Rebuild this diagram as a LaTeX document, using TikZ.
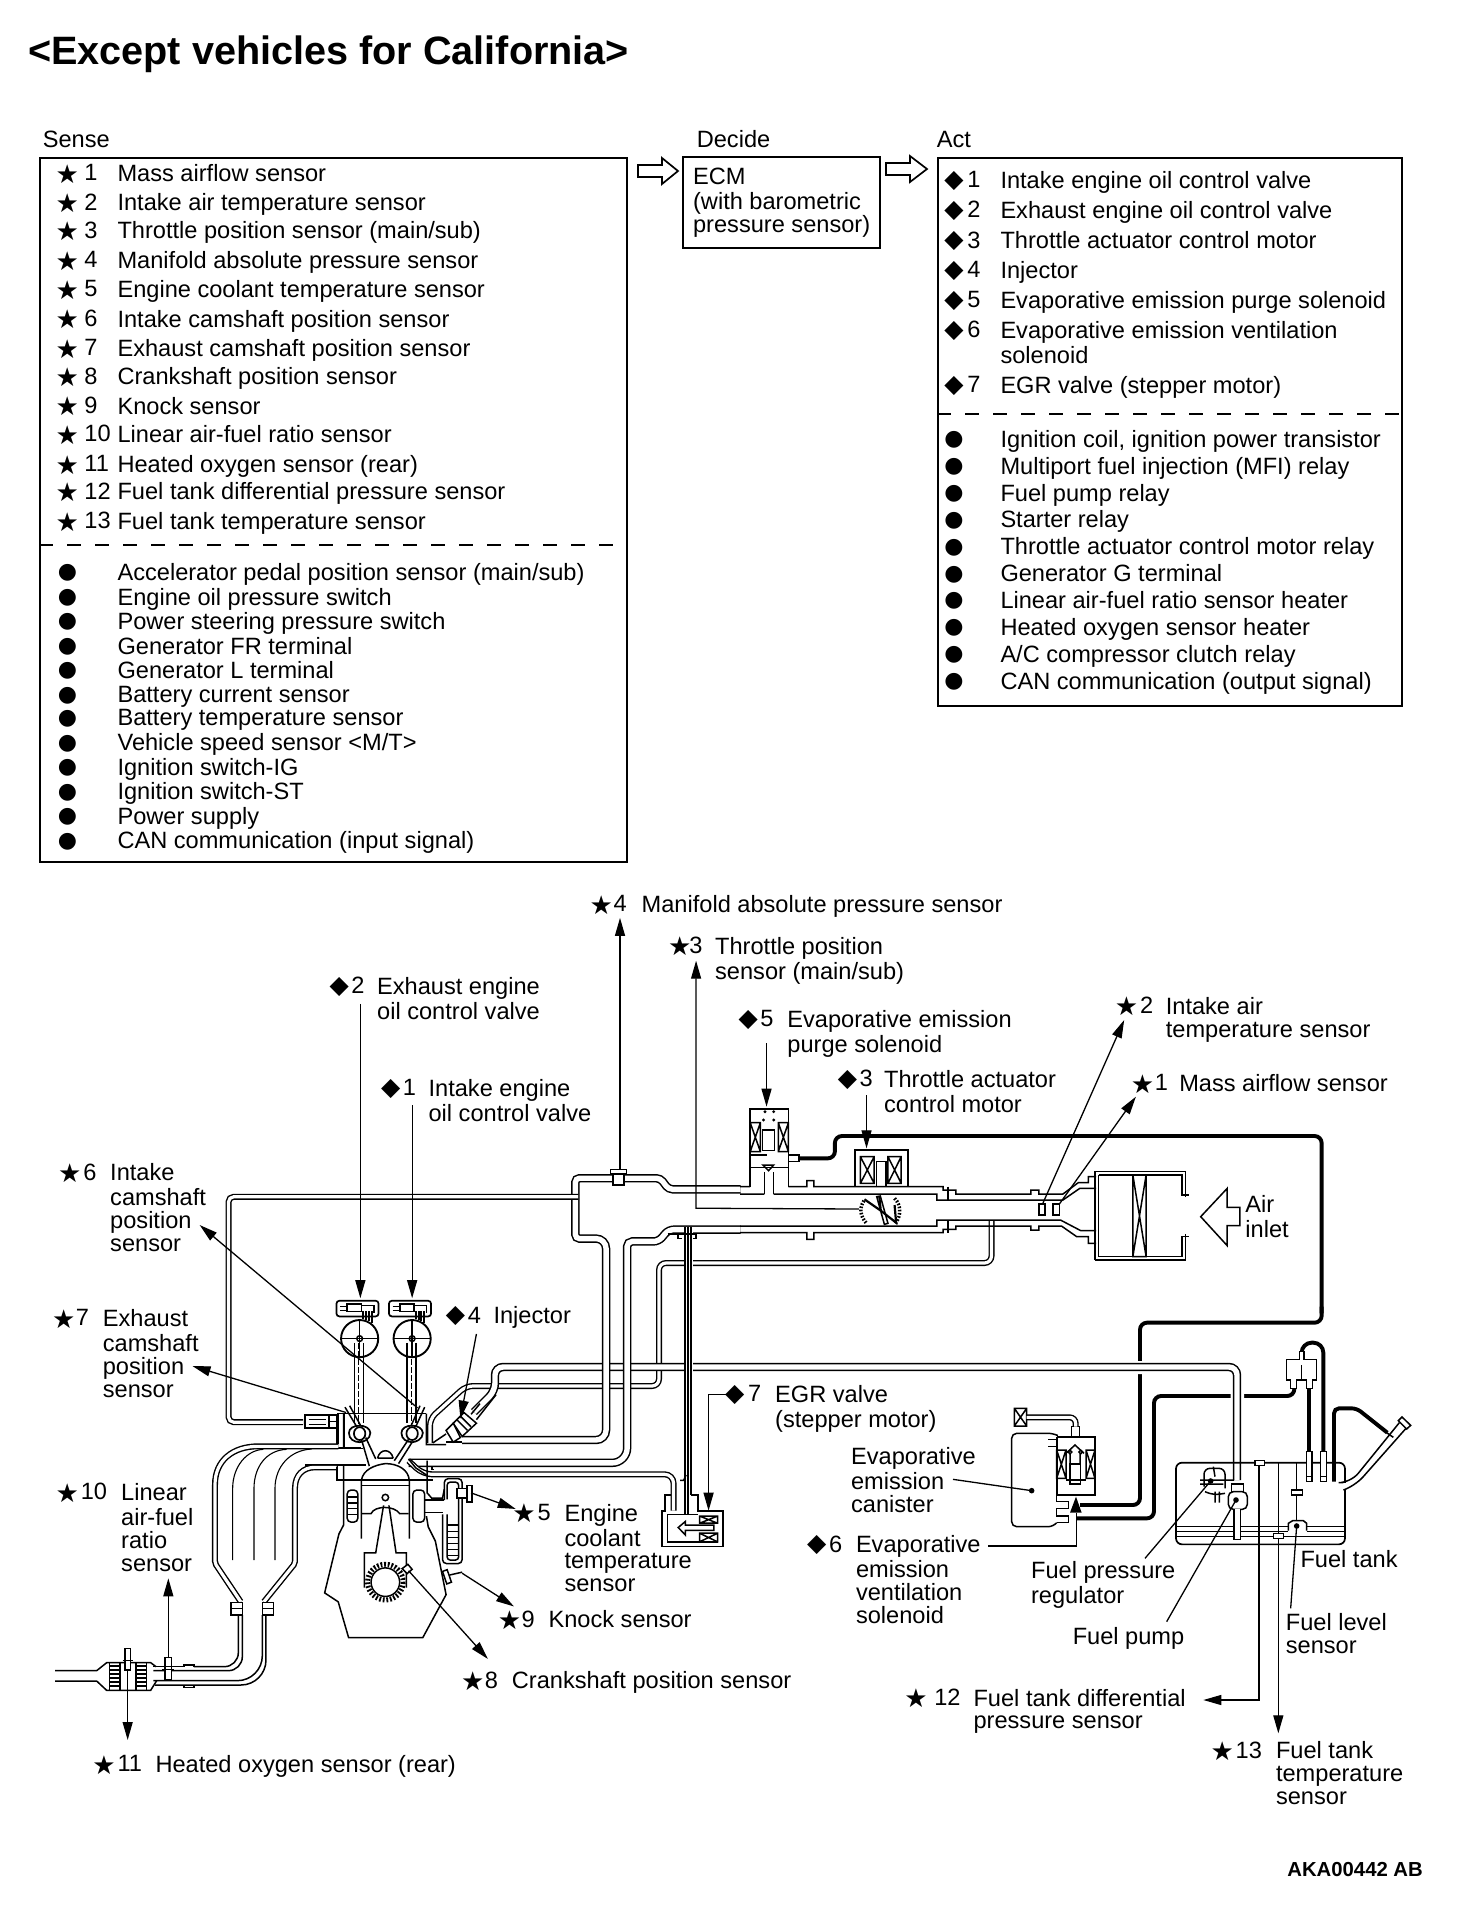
\documentclass[tikz,border=0pt]{standalone}
\usepackage{fontspec}
\setmainfont{Liberation Sans}
\newfontfamily\symf{DejaVu Sans}
\usetikzlibrary{arrows.meta}
\tikzset{
 z1/.style={shift={(180,1100)},x=.35714pt,y=-.35714pt},
 z2/.style={shift={(540,1080)},x=.5102pt,y=-.33333pt},
 z3/.style={shift={(960,1300)},x=.33333pt,y=-.33333pt},
 z4/.style={shift={(30,1400)},x=.33333pt,y=-.33333pt},
 lbl/.style={anchor=north west,inner sep=0pt,outer sep=0pt,align=left,font=\fontsize{23.6}{22.9}\selectfont},
 sy/.style={anchor=center,inner sep=0pt,outer sep=0pt},
 boxl/.style={draw,line width=1.9pt},
 ln/.style={line width=1.5pt},
 lnf/.style={line width=1.1pt},
 pipeA/.style={draw,line width=1.5pt,double,double distance=5.4pt,rounded corners=5pt},
 pipeB/.style={draw,line width=1.4pt,double,double distance=3.2pt,rounded corners=7pt},
 thickp/.style={line width=3.9pt,rounded corners=7pt,line cap=butt},
 lead/.style={line width=1.3pt,-{Triangle[length=18pt,width=10pt]}},
 plainlead/.style={line width=1.3pt},
 dashsep/.style={line width=1.1pt,dash pattern=on 14pt off 14pt},
 hollow/.style={draw,line width=1.7pt,fill=white}
}
\newcommand\lb[4]{\node[lbl] (#1) at ({#2*1.2246},{#3*1.2246-9.6}) {\strut #4};}
\newcommand\stsym{\symf\fontsize{26}{26}\selectfont ★}
\newcommand\disym{\symf\fontsize{25}{25}\selectfont ◆}
\newcommand\busym{\symf\fontsize{22}{22}\selectfont ●}
\newcommand\lbs[8]{\node[sy] (#1-s) at ({#3*1.2246},{#6*1.2246}) {#2};\lb{#1-n}{#4}{#6}{#7}\lb{#1}{#5}{#6}{#8}}
\newcommand\sr[3]{\lbs{s#1}{\stsym}{55}{69}{96}{#2}{#1}{#3}}
\newcommand\ar[3]{\lbs{a#1}{\disym}{779}{790}{817}{#2}{#1}{#3}}
\newcommand\bs[3]{\node[sy] (bs#1-s) at ({55*1.2246},{#2*1.2246}) {\busym};\lb{bs#1}{96}{#2}{#3}}
\newcommand\ba[3]{\node[sy] (ba#1-s) at ({779*1.2246},{#2*1.2246}) {\busym};\lb{ba#1}{817}{#2}{#3}}
\begin{document}
\begin{tikzpicture}[x=1pt,y=-1pt]
\useasboundingbox (0,0) rectangle (1472,1920);
\fill[white] (0,0) rectangle (1472,1920);
% title and headers
\node[anchor=base west,inner sep=0pt,font=\bfseries\fontsize{39.6}{40}\selectfont] (title) at (28,64) {<Except vehicles for California>};
\lb{hsense}{35}{115}{Sense}
\lb{hdecide}{569}{114}{Decide}
\lb{hact}{765}{115}{Act}
% boxes
\node[boxl,minimum width=587pt,minimum height=704pt,anchor=north west,inner sep=0pt] (sensebox) at (39,157) {};
\node[boxl,minimum width=197pt,minimum height=91pt,anchor=north west,inner sep=0pt] (ecmbox) at (682,156) {};
\node[boxl,minimum width=464pt,minimum height=548pt,anchor=north west,inner sep=0pt] (actbox) at (937,157) {};
\draw[dashsep] (sensebox.west |- 0,545) -- (sensebox.east |- 0,545);
\draw[dashsep] (actbox.west |- 0,414) -- (actbox.east |- 0,414);
\lb{ecmt}{566}{145}{ECM\\(with barometric\\pressure sensor)}
\draw[hollow] (638,165)--(662,165)--(662,158)--(678,171)--(662,184)--(662,177)--(638,177)--cycle;
\draw[hollow] (886,163)--(910,163)--(910,156)--(927,169)--(910,182)--(910,175)--(886,175)--cycle;
% sense
\sr{1}{142}{Mass airflow sensor}
\sr{2}{166}{Intake air temperature sensor}
\sr{3}{189}{Throttle position sensor (main/sub)}
\sr{4}{213}{Manifold absolute pressure sensor}
\sr{5}{237}{Engine coolant temperature sensor}
\sr{6}{261}{Intake camshaft position sensor}
\sr{7}{285}{Exhaust camshaft position sensor}
\sr{8}{308}{Crankshaft position sensor}
\sr{9}{332}{Knock sensor}
\sr{10}{355}{Linear air-fuel ratio sensor}
\sr{11}{380}{Heated oxygen sensor (rear)}
\sr{12}{402}{Fuel tank differential pressure sensor}
\sr{13}{426}{Fuel tank temperature sensor}
\bs{1}{468}{Accelerator pedal position sensor (main/sub)}
\bs{2}{488}{Engine oil pressure switch}
\bs{3}{508}{Power steering pressure switch}
\bs{4}{528}{Generator FR terminal}
\bs{5}{548}{Generator L terminal}
\bs{6}{568}{Battery current sensor}
\bs{7}{587}{Battery temperature sensor}
\bs{8}{607}{Vehicle speed sensor <M/T>}
\bs{9}{627}{Ignition switch-IG}
\bs{10}{647}{Ignition switch-ST}
\bs{11}{667}{Power supply}
\bs{12}{687}{CAN communication (input signal)}
% act
\ar{1}{148}{Intake engine oil control valve}
\ar{2}{172}{Exhaust engine oil control valve}
\ar{3}{197}{Throttle actuator control motor}
\ar{4}{221}{Injector}
\ar{5}{246}{Evaporative emission purge solenoid}
\ar{6}{270}{Evaporative emission ventilation\\solenoid}
\ar{7}{315}{EGR valve (stepper motor)}
\ba{1}{359}{Ignition coil, ignition power transistor}
\ba{2}{381}{Multiport fuel injection (MFI) relay}
\ba{3}{403}{Fuel pump relay}
\ba{4}{425}{Starter relay}
\ba{5}{447}{Throttle actuator control motor relay}
\ba{6}{469}{Generator G terminal}
\ba{7}{491}{Linear air-fuel ratio sensor heater}
\ba{8}{513}{Heated oxygen sensor heater}
\ba{9}{535}{A/C compressor clutch relay}
\ba{10}{557}{CAN communication (output signal)}
% diagram labels
\lbs{l4}{\stsym}{491}{501}{524}{739}{4}{Manifold absolute pressure sensor}
\lbs{l3}{\stsym}{555}{563}{584}{773}{3}{Throttle position\\sensor (main/sub)}
\lbs{ld2}{\disym}{277}{287}{308}{806}{2}{Exhaust engine\\oil control valve}
\lbs{ld5}{\disym}{611}{621}{643}{833}{5}{Evaporative emission\\purge solenoid}
\lbs{l2}{\stsym}{920}{931}{952}{822}{2}{Intake air\\temperature sensor}
\lbs{ld3}{\disym}{692}{702}{722}{882}{3}{Throttle actuator\\control motor}
\lbs{l1}{\stsym}{933}{943}{963}{885}{1}{Mass airflow sensor}
\lbs{ld1}{\disym}{319}{329}{350}{889}{1}{Intake engine\\oil control valve}
\lbs{l6}{\stsym}{57}{68}{90}{958}{6}{Intake\\camshaft\\position\\sensor}
\lbs{l7}{\stsym}{52}{62}{84}{1077}{7}{Exhaust\\camshaft\\position\\sensor}
\lbs{ld4}{\disym}{372}{382}{403}{1075}{4}{Injector}
\lbs{ld7}{\disym}{600}{611}{633}{1139}{7}{EGR valve\\(stepper motor)}
\lb{lcan}{695}{1190}{Evaporative\\emission\\canister}
\lbs{l5}{\stsym}{428}{439}{461}{1236}{5}{Engine\\coolant\\temperature\\sensor}
\lbs{l10}{\stsym}{55}{66}{99}{1219}{10}{Linear\\air-fuel\\ratio\\sensor}
\lbs{ld6}{\disym}{667}{677}{699}{1262}{6}{Evaporative\\emission\\ventilation\\solenoid}
\lb{lfpr}{842}{1283}{Fuel pressure\\regulator}
\lb{lfp}{876}{1337}{Fuel pump}
\lb{lft}{1062}{1274}{Fuel tank}
\lb{lfl}{1050}{1325}{Fuel level\\sensor}
\lbs{l9}{\stsym}{416}{426}{448}{1323}{9}{Knock sensor}
\lbs{l8}{\stsym}{386}{396}{418}{1373}{8}{Crankshaft position sensor}
\lbs{l12}{\stsym}{748}{763}{795}{1387}{12}{Fuel tank differential\\pressure sensor}
\lbs{l13}{\stsym}{998}{1009}{1042}{1430}{13}{Fuel tank\\temperature\\sensor}
\lbs{l11}{\stsym}{85}{96}{127}{1441}{11}{Heated oxygen sensor (rear)}
\lb{lair}{1017}{984}{Air\\inlet}
\node[anchor=base east,inner sep=0pt,font=\bfseries\fontsize{20.3}{21}\selectfont] (code) at (1423,1876) {AKA00442 AB};

% === thick vapor lines
\begin{scope}[z2]
\draw[thickp] (508,235)--(578,235)--(578,168)--(1532,168)--(1532,700);
\end{scope}
\begin{scope}[z3]
\draw[thickp] (1085,20)--(1085,68)--(540,68)--(540,615)--(360,615);
\draw[thickp] (350,655)--(582,655)--(582,288)--(1003,288)--(1003,262);
\draw[line width=3.9pt] (1048,265)--(1048,455);
\draw[thickp,rounded corners=10pt] (1025,155)--(1025,128)--(1090,128)--(1090,455);
\draw[thickp,rounded corners=5pt] (1122,545)--(1122,325)--(1190,325)--(1282,398);
\fill[white] (530,183) rectangle (550,222) (812,278) rectangle (852,298);
\end{scope}
% === pipe with injector rail (thin double), passes under the fuel line
\draw[pipeB] (991.5,1220)--(991.5,1263)--(659,1263)--(659,1386)--(466,1386)--(430,1418.6)--(430,1443);
% === fuel line
\draw[pipeA,rounded corners=8pt] (474,1412)--(495,1391)--(495,1367)--(1237,1367)--(1237,1480);
% === surge tank and runners
\begin{scope}[z1]
\path[pipeA] (790,952) [rounded corners=10pt] --(1193,952)--(1193,388) [rounded corners=4pt] --(1107,388)--(1107,219)--(1345,219)--(1368,250)--(1570,250);
\path[pipeA] (640,1016) [rounded corners=15pt] --(1252,1016) [rounded corners=5pt] --(1252,396)--(1340,396)--(1368,363)--(1570,363);
\draw[pipeB,rounded corners=5pt] (1115,271)--(136,271)--(136,902)--(345,902);
\draw[ln] (745,958)--(790,958);
\end{scope}
% === main throttle body
\begin{scope}[z2]
\draw[ln] (392,320)--(412,320) (392,342)--(440,342) (458,342)--(778,342)--(778,360)--(1025,360)--(1058,325)--(1090,325);
\draw[ln] (487,320)--(523,320)--(523,302)--(537,302)--(537,320)--(790,320)--(790,330)--(815,330)--(815,342)--(962,342)--(962,330)--(978,330)--(978,342)--(1025,342)--(1055,308)--(1075,308)--(1075,290)--(1090,290);
\draw[ln] (800,320)--(800,360);
\draw[ln] (392,438)--(778,438)--(778,420)--(1020,420)--(1060,452)--(1090,452);
\draw[ln] (392,458)--(523,458)--(523,478)--(537,478)--(537,458)--(790,458)--(790,448)--(815,448)--(815,438)--(962,438)--(962,450)--(978,450)--(978,438)--(1022,438)--(1052,470)--(1075,470)--(1075,490)--(1090,490);
\draw[ln] (800,420)--(800,458);
\draw[ln] (1088,540)--(1088,275)--(1265,275)--(1265,352) (1095,285)--(1258,285)--(1258,345)--(1272,345);
\draw[ln] (1088,540)--(1265,540)--(1265,462) (1095,530)--(1258,530)--(1258,470)--(1272,470);
\draw[ln] (1095,285)--(1095,530);
\draw[ln] (1162,285) rectangle (1188,530) (1162,285)--(1188,530) (1188,285)--(1162,530);
\draw[ln] (1295,410)--(1347,325)--(1347,382)--(1372,382)--(1372,437)--(1347,437)--(1347,497)--cycle;
\draw[ln] (978,372) rectangle (990,405) (1005,372) rectangle (1018,405);
% throttle actuator
\draw[line width=1.9pt] (617,320)--(617,210)--(722,210)--(722,320);
\draw[ln] (628,230) rectangle (655,310) (628,230)--(655,310) (655,230)--(628,310);
\draw[ln] (682,230) rectangle (708,310) (682,230)--(708,310) (708,230)--(682,310);
\draw[ln] (660,318)--(660,245)--(678,245)--(678,318);
% throttle plate
\draw[line width=2.2pt] (636,358)--(668,392)--(665,350) (668,392)--(698,428)--(695,375);
\draw[ln] (660,350)--(675,433)--(682,430)--(667,348)--cycle;
\draw[line width=3.5pt,dash pattern=on 1.6pt off 1.6pt] (635,362)..controls (625,385) and (628,410)..(640,430);
\draw[line width=3.5pt,dash pattern=on 1.6pt off 1.6pt] (695,355)..controls (708,375) and (708,405)..(697,430);
\fill[white] (412,88) rectangle (487,320);
% purge solenoid
\draw[line width=1.9pt] (412,320)--(412,88)--(487,88)--(487,320);
\draw[ln] (412,128) rectangle (432,215) (412,128)--(432,215) (432,128)--(412,215);
\draw[ln] (467,128) rectangle (487,215) (467,128)--(487,215) (487,128)--(467,215);
\draw[ln] (436,150) rectangle (460,212);
\draw[ln] (412,262)--(487,262) (440,342)--(440,275) (458,342)--(458,275);
\draw[ln] (437,255)--(458,255)--(448,272)--cycle;
\draw[ln] (412,225)--(445,225) (487,225)--(508,225)--(508,245)--(487,245);
\fill (441,95) circle (1.6pt) (458,95) circle (1.6pt) (438,120) circle (1.6pt) (458,120) circle (1.6pt);
\end{scope}
% === EGR tube
\begin{scope}[z1]
\draw[white,line width=9pt] (1423,360)--(1423,1160);
\draw[line width=1.3pt] (1414,355)--(1414,1160) (1422,355)--(1422,1160) (1431,355)--(1431,1105);
\draw[ln] (1365,375)--(1445,375) (1395,375)--(1395,388)--(1405,388) (1445,375)--(1445,388)--(1435,388);
% EGR valve
\draw[line width=1.7pt] (1385,1105)--(1357,1105)--(1357,1150)--(1350,1150)--(1350,1250)--(1520,1250)--(1520,1150)--(1450,1150)--(1450,1105)--(1431,1105);
\draw[ln] (1365,1160)--(1365,1237)--(1505,1237) (1365,1160)--(1450,1160);
\draw[ln] (1455,1165) rectangle (1505,1185) (1455,1165)--(1505,1185) (1505,1165)--(1455,1185);
\draw[ln] (1455,1213) rectangle (1505,1237) (1455,1213)--(1505,1237) (1505,1213)--(1455,1237);
\draw[ln] (1395,1197)--(1415,1180)--(1415,1190)--(1495,1190)--(1495,1205)--(1415,1205)--(1415,1218)--cycle;
\draw[pipeB,rounded corners=9pt] (640,1010)--(680,1048)--(1382,1048)--(1382,1150);
\draw[ln] (705,1025)--(705,1035)--(712,1035);
\draw[ln] (1400,1065)--(1410,1065)--(1417,1050);
% cam sensors and sprockets
\foreach \n/\cx in {a/503,b/650}{
\draw[line width=1.7pt,rounded corners=3pt] (\cx-65,562) rectangle (\cx+53,606);
\draw[line width=1.7pt] (\cx-35,572) rectangle (\cx+5,592);
\draw[line width=1.3pt] (\cx-55,578)--(\cx-35,578) (\cx-55,590)--(\cx-35,590) (\cx+5,575)--(\cx+40,575)--(\cx+40,595);
\draw[line width=2pt] (\cx+10,592)--(\cx+10,612) (\cx+18,592)--(\cx+18,615) (\cx+26,592)--(\cx+26,620) (\cx+34,592)--(\cx+34,625);
\draw[line width=1.9pt] (\cx,668) circle (52);
\draw[ln] (\cx-52,668)--(\cx+52,668) (\cx,617)--(\cx,720);
\draw[ln] (\cx,668) circle (8);
\draw[ln] (\cx-14,680)--(\cx-14,905) (\cx+11,680)--(\cx+11,905);
\draw[lnf,dash pattern=on 6pt off 2pt] (\cx-3,680)--(\cx-3,905);
\draw[line width=1.7pt,fill=white] (\cx-30,932)..controls (\cx-30,905) and (\cx+28,905)..(\cx+30,932)..controls (\cx+30,950) and (\cx+10,958)..(\cx,958)..controls (\cx-15,958) and (\cx-30,950)..(\cx-30,932);
\draw[line width=1.7pt] (\cx,934) ellipse (16 and 18);
}
% head and wall lines
\draw[ln] (440,878)--(690,878);
\draw[ln] (440,878)--(440,965)--(205,965);
\draw[ln] (458,878)--(458,975) (458,1022)--(458,1190)--(445,1215)--(405,1380)--(443,1405)--(472,1505)--(680,1505)--(745,1385)--(715,1235)--(695,1195)--(690,1165);
\draw[ln] (370,975)--(508,975) (350,1022)--(520,1022);
\draw[ln] (440,1022)--(440,1065)--(640,1065) (510,1080)--(640,1080);
\draw[ln] (690,878)--(690,965)--(745,965) (692,1010)--(692,1100)--(705,1115)--(735,1115)--(740,1090);
\draw[ln] (420,882)--(440,882) (420,918)--(440,918);
% exhaust sensor
\draw[line width=1.9pt] (350,882) rectangle (418,918);
\draw[ln] (360,895)--(410,895) (360,908)--(410,908) (418,900)--(440,900);
% valves
\draw[ln] (508,950)--(530,1025) (520,945)--(548,1005) (640,950)--(600,1010) (650,958)--(612,1018);
\draw[ln] (462,860)--(495,915) (475,856)--(505,910) (685,860)--(660,915) (672,856)--(648,910);
% chamber and piston
\draw[ln] (508,1228)--(508,1065)..controls (512,1035) and (545,1022)..(575,1018)..controls (610,1018) and (640,1035)..(642,1065)--(642,1228);
\draw[ln] (553,1003)..controls (560,975) and (590,975)..(597,1003) (553,1003)--(597,1003);
\draw[ln] (640,1005)--(660,1030)--(690,1050);
\draw[ln] (510,1158)--(535,1158)..controls (545,1135) and (600,1135)..(615,1158)--(640,1158);
\draw[ln] (575,1113) circle (9);
\draw[ln] (570,1135)--(548,1268)--(516,1268)--(516,1365) (585,1135)--(605,1268)--(634,1268)--(634,1365);
\draw[ln] (575,1350) circle (40);
\draw[line width=5pt,dash pattern=on 1.8pt off 1.8pt] (575,1350) circle (50);
% coolant passages
\draw[ln,rounded corners=4pt] (468,1092) rectangle (498,1182);
\draw[ln] (468,1112)--(498,1112) (468,1128)--(498,1128) (468,1144)--(498,1144) (468,1160)--(498,1160);
\draw[ln,rounded corners=4pt] (652,1092) rectangle (685,1182);
\draw[ln] (685,1120)--(740,1120) (685,1155)--(735,1155);
\draw[ln,rounded corners=4pt] (735,1160)--(735,1298)--(790,1298)--(790,1060)--(740,1060)--(740,1120);
\draw[ln,rounded corners=3pt] (748,1160)--(748,1288)--(780,1288)--(780,1070)--(748,1070)--(748,1118);
\foreach \yy in {1190,1207,1224,1241,1258,1275}{\draw[lnf] (748,\yy)--(780,\yy);}
% coolant temp sensor
\draw[ln,fill=white] (775,1088) rectangle (805,1115);
\draw[ln,fill=white] (803,1080) rectangle (817,1125);
% knock sensor
\draw[ln,fill=white] (735,1320)--(748,1315)--(760,1350)--(747,1355)--cycle;
\draw[ln] (755,1330)--(790,1322);
% crank sensor
\draw[ln,fill=white] (622,1312)--(638,1300)--(650,1314)--(636,1326)--cycle;
% injector
\draw[ln,fill=white] (765,905)--(795,875)--(830,905)--(790,942)--cycle;
\draw[ln] (775,895)--(805,925) (785,885)--(815,915);
\draw[ln,fill=white] (745,925)--(765,905)--(785,945)--(765,958)--cycle;
\draw[ln] (815,880)--(840,850) (830,895)--(885,825);
\draw[ln] (708,960)--(745,935);
\end{scope}
% === exhaust
\begin{scope}[z4]
\draw[pipeB,rounded corners=2pt] (925,139)--(690,139)..controls (610,139) and (555,180)..(555,260)--(555,490)--(632,605);
\draw[pipeB,rounded corners=2pt] (920,202)--(860,202)..controls (820,202) and (795,225)..(795,270)--(795,490)--(702,605);
\draw[ln] (925,40)--(925,133) (942,40)--(942,145) (840,145)--(1000,145);
\draw[ln] (920,200)--(920,240)--(1210,240);
\draw[lnf] (608,480)--(608,265)..controls (608,200) and (650,150)..(700,148);
\draw[lnf] (672,480)--(672,265)..controls (672,200) and (710,150)..(770,148);
\draw[lnf] (735,480)--(735,265)..controls (735,200) and (780,150)..(845,147);
\draw[ln,fill=white] (603,607) rectangle (637,645) (697,607) rectangle (731,645);
\draw[ln] (603,625)--(637,625) (697,625)--(731,625);
\draw[ln,rounded corners=14pt] (625,645)--(625,800)--(492,800);
\draw[ln,rounded corners=14pt] (637,645)--(637,812)--(370,812);
\draw[ln,rounded corners=25pt] (697,645)--(697,842)--(370,842);
\draw[ln,rounded corners=25pt] (708,645)--(708,855)--(375,855);
\draw[ln] (370,800)--(462,800)--(462,795)--(492,795)--(492,800);
\draw[ln] (462,855)--(462,863)--(492,863)--(492,855);
\draw[ln] (75,812)--(200,812)--(230,788)--(362,788)--(378,800);
\draw[ln] (75,843)--(200,843)--(230,871)--(362,871)--(380,842);
\draw[ln] (238,788) rectangle (270,871) (318,788) rectangle (350,871);
\foreach \yy in {798,810,822,834,846,858}{\draw[lnf] (238,\yy)--(270,\yy) (318,\yy)--(350,\yy);}
\draw[ln,fill=white] (285,745) rectangle (302,810);
\draw[ln] (278,782)--(310,782);
\draw[ln,fill=white] (405,773) rectangle (425,838);
\draw[ln] (397,800)--(432,800) (397,808)--(432,808);
\end{scope}
% === manifold pressure sensor
\begin{scope}[z1]
\draw[ln,fill=white] (1213,205) rectangle (1243,238);
\draw[ln,fill=white] (1205,195) rectangle (1250,207);
\end{scope}
% === fuel tank side
\begin{scope}[z3]
\draw[line width=1.7pt,rounded corners=6pt] (648,733) rectangle (1155,488);
\fill[white] (1150,548) rectangle (1160,570);
\draw[ln] (648,680)--(985,680) (1040,680)--(1155,680) (648,695)--(985,695) (1040,695)--(1155,695) (648,710)--(940,710) (970,710)--(1155,710);
\draw[lnf] (1010,490)--(1010,665);
\draw[ln,fill=white] (995,570) rectangle (1028,585);
\draw[ln,fill=white] (985,692)--(985,670)--(998,662)--(1030,662)--(1040,670)--(1040,692);
\draw[ln,fill=white] (885,482) rectangle (913,497);
\draw[ln,fill=white] (940,700) rectangle (970,715);
\draw[ln] (897,497)--(897,680) (955,490)--(955,700);
% regulator and pump
\draw[ln,rounded corners=6pt] (732,560)--(732,505)--(795,505)--(795,565);
\draw[ln,rounded corners=6pt] (735,575)--(760,585)--(795,580);
\draw[ln] (720,540)--(822,540) (720,552)--(790,552) (760,500)--(765,530) (765,575)--(765,608) (778,575)--(778,608);
\draw[ln,fill=white] (815,552) rectangle (850,575);
\draw[ln,fill=white,rounded corners=5pt] (805,575) rectangle (862,628);
\draw[ln,fill=white] (822,628)--(822,718)--(842,718)--(842,628);
% tank valve
\draw[ln,fill=white] (980,178)--(1018,178)--(1018,155)--(1032,155)--(1032,178)--(1070,178)--(1070,240)--(1058,240)--(1058,265)--(1040,265)--(1040,240)--(1010,240)--(1010,265)--(992,265)--(992,240)--(980,240)--cycle;
\draw[ln] (1025,195)--(1025,240);
\draw[ln,fill=white] (1040,455) rectangle (1056,545) (1082,455) rectangle (1100,545);
\draw[ln] (1040,530)--(1056,530) (1082,530)--(1100,530);
% filler neck
\draw[ln,rounded corners=12pt] (1150,548)--(1172,548)--(1318,368);
\draw[ln,rounded corners=12pt] (1150,570)--(1185,558)--(1338,385);
\draw[ln] (1280,398)--(1300,412);
\draw[ln,fill=white] (1315,362)--(1326,351)--(1352,376)--(1340,387)--cycle;
% canister
\draw[ln,rounded corners=5pt] (290,405)--(280,400)--(155,400)--(155,680)--(280,680)--(290,668);
\draw[ln] (265,418)--(290,418)--(290,410) (265,440)--(290,440)--(290,450);
\draw[ln] (290,585)--(290,605)--(325,605)--(325,625)--(290,625)--(290,648)--(325,648)--(325,668)--(290,668);
\draw[line width=1.7pt] (290,410)--(405,410)--(405,585)--(290,585)--(290,410);
\draw[ln] (290,450) rectangle (318,535) (290,450)--(318,535) (318,450)--(290,535);
\draw[ln] (378,450) rectangle (405,535) (378,450)--(405,535) (405,450)--(378,535);
\draw[ln] (330,492) rectangle (362,552);
\draw[ln] (318,540)--(378,540);
\draw[ln] (318,460)--(345,435)--(372,460) (330,460)--(330,490) (360,460)--(360,490);
\draw[ln] (330,456) circle (1.8pt) (362,456) circle (1.8pt);
\draw[ln] (335,410)--(335,380)--(358,380)--(358,410);
\draw[ln] (163,325) rectangle (200,378) (163,325)--(200,378) (200,325)--(163,378);
\draw[pipeB,rounded corners=6pt] (200,352)--(347,352)--(347,380);
\fill (330,638)--(365,638)--(348,590)--cycle;
\end{scope}
% === leaders
\begin{scope}[z1]
\coordinate (c6s) at (665,862); \coordinate (c6t) at (55,350);
\coordinate (c7s) at (465,875); \coordinate (c7t) at (35,745);
\coordinate (c4s) at (830,655); \coordinate (c4t) at (785,892);
\coordinate (c5s) at (815,1100); \coordinate (c5t) at (940,1145);
\coordinate (c9s) at (790,1325); \coordinate (c9t) at (935,1418);
\coordinate (c8s) at (640,1318); \coordinate (c8t) at (862,1565);
\coordinate (c7vs) at (1530,825); \coordinate (c7vm) at (1480,825); \coordinate (c7vt) at (1480,1150);
\coordinate (cd2s) at (505,-269); \coordinate (cd2t) at (505,555);
\coordinate (cd1s) at (650,14); \coordinate (cd1t) at (650,555);
\coordinate (c4ps) at (1232,195); \coordinate (c4pt) at (1232,-510);
\coordinate (c3m) at (1445,303); \coordinate (c3t) at (1445,-390);
\end{scope}
\begin{scope}[z2]
\coordinate (c3s) at (625,387);
\coordinate (cd5s) at (444,-110); \coordinate (cd5t) at (444,80);
\coordinate (cd3s) at (640,45); \coordinate (cd3t) at (640,205);
\coordinate (c2s) at (985,372); \coordinate (c2t) at (1145,-180);
\coordinate (c1s) at (1018,372); \coordinate (c1t) at (1168,50);
\end{scope}
\begin{scope}[z3]
\coordinate (cfrs) at (752,543); \coordinate (cfrt) at (555,775);
\coordinate (cfps) at (828,600); \coordinate (cfpt) at (620,965);
\coordinate (cfls) at (1010,678); \coordinate (cflt) at (992,925);
\coordinate (ccs) at (-21,538); \coordinate (cct) at (215,572);
\coordinate (cvs) at (85,738); \coordinate (cvm) at (350,738); \coordinate (cvt) at (350,640);
\coordinate (c12s) at (897,497); \coordinate (c12m) at (897,1200); \coordinate (c12t) at (730,1200);
\coordinate (c13s) at (955,715); \coordinate (c13t) at (955,1300);
\end{scope}
\begin{scope}[z4]
\coordinate (c10s) at (415,775); \coordinate (c10t) at (415,535);
\coordinate (c11s) at (293,810); \coordinate (c11t) at (293,1020);
\end{scope}
\draw[lead] (c6s)--(c6t);
\draw[lead] (c7s)--(c7t);
\draw[lead] (c4s)--(c4t);
\draw[lead] (c5s)--(c5t);
\draw[lead] (c9s)--(c9t);
\draw[lead] (c8s)--(c8t);
\draw[lead] (c7vs)--(c7vm)--(c7vt);
\draw[lead] (cd2s)--(cd2t);
\draw[lead] (cd1s)--(cd1t);
\draw[lead] (c4ps)--(c4pt);
\draw[lead] (c3s)--(c3m)--(c3t);
\draw[lead] (cd5s)--(cd5t);
\draw[lead] (cd3s)--(cd3t);
\draw[lead] (c2s)--(c2t);
\draw[lead] (c1s)--(c1t);
\draw[plainlead] (cfrs)--(cfrt); \fill (cfrs) circle (2.8pt);
\draw[plainlead] (cfps)--(cfpt); \fill (cfps) circle (2.8pt);
\draw[plainlead] (cfls)--(cflt); \fill (cfls) circle (2.8pt);
\draw[plainlead] (ccs)--(cct); \fill (cct) circle (2.8pt);
\draw[plainlead] (cvs)--(cvm)--(cvt);
\draw[lead] (c12s)--(c12m)--(c12t);
\draw[lead] (c13s)--(c13t);
\draw[lead] (c10s)--(c10t);
\draw[lead] (c11s)--(c11t);
\end{tikzpicture}
\end{document}
